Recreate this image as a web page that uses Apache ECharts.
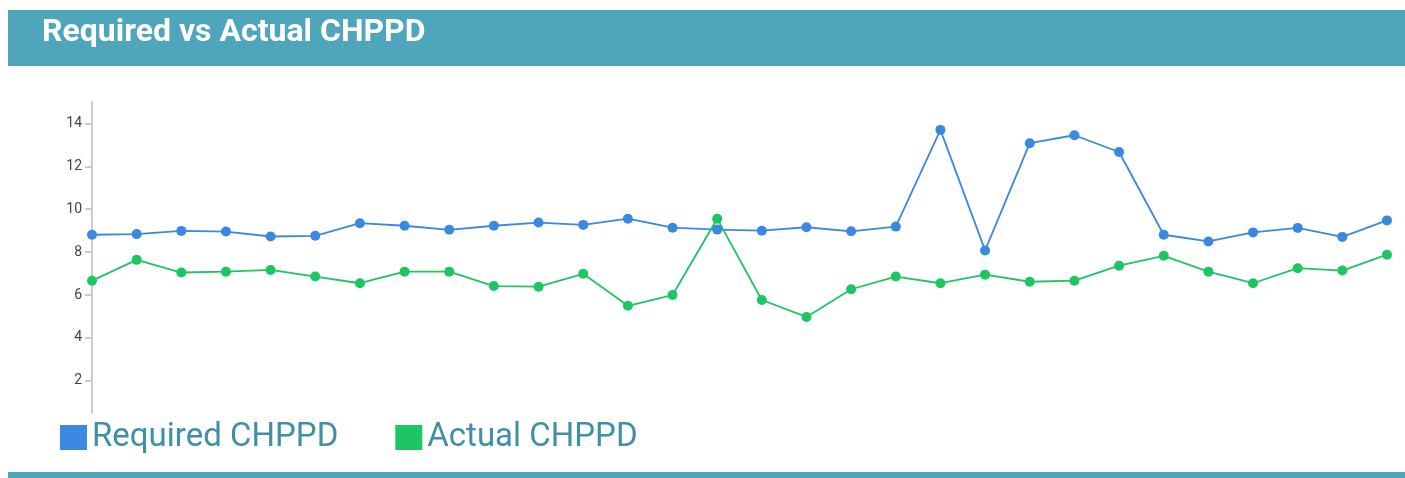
<!DOCTYPE html>
<html>
<head>
<meta charset="utf-8">
<script src="https://cdn.jsdelivr.net/npm/echarts@6/dist/echarts.min.js"></script>
<style>
html,body{margin:0;padding:0;background:#fff;}
#chart{width:1405px;height:478px;}
</style>
</head>
<body>
<div id="chart"></div>
<script>
const titleText = 'Required vs Actual CHPPD';
const categories = ['1','2','3','4','5','6','7','8','9','10','11','12','13','14','15','16','17','18','19','20','21','22','23','24','25','26','27','28','29','30'];
const requiredCHPPD = [8.81,8.84,8.99,8.96,8.73,8.76,9.35,9.23,9.04,9.23,9.38,9.27,9.56,9.14,9.05,9.0,9.16,8.97,9.19,13.7,8.08,13.08,13.45,12.67,8.81,8.5,8.92,9.13,8.71,9.48];
const actualCHPPD = [6.67,7.64,7.05,7.09,7.17,6.86,6.55,7.09,7.09,6.42,6.39,6.99,5.5,6.0,9.56,5.77,4.98,6.27,6.86,6.55,6.95,6.62,6.67,7.37,7.83,7.09,6.55,7.25,7.14,7.88];
const yTicks = [2,4,6,8,10,12,14];

const chart = echarts.init(document.getElementById('chart'));
chart.setOption({
  animation: false,
  backgroundColor: '#fff',
  graphic: [
    {type:'rect', left:8, top:10, shape:{width:1397, height:56}, style:{fill:'#4fa5bc'}, z:-1},
    {type:'rect', left:8, top:472, shape:{width:1397, height:6}, style:{fill:'#4fa5bc'}, z:-1}
  ],
  title: {
    text: titleText,
    left: 37, top: 12,
    textStyle: {color:'#fff', fontSize:32, fontWeight:'bold', fontFamily:'Roboto'}
  },
  legend: {
    left: 60, top: 421,
    padding: 0,
    icon: 'rect',
    itemWidth: 27, itemHeight: 25,
    itemGap: 57,
    textStyle: {color:'#3f8fa7', fontSize:33, fontFamily:'Roboto', padding:[0,0,0,0]},
    data: ['Required CHPPD','Actual CHPPD']
  },
  grid: {left:92, right:18, top:102, bottom:65, containLabel:false},
  xAxis: {
    type:'category', data: categories, boundaryGap:false,
    show:false
  },
  yAxis: {
    type:'value', min:0.5, max:15,
    splitLine:{show:false},
    axisLine:{show:true, lineStyle:{color:'#cccccc', width:2}},
    axisTick:{show:true, length:7, customValues: yTicks, lineStyle:{color:'#cccccc', width:2}},
    axisLabel:{customValues: yTicks, color:'#444', fontSize:14, fontFamily:'Roboto', margin:10}
  },
  series: [
    {name:'Required CHPPD', type:'line', data: requiredCHPPD, color:'#3a88e0',
     symbol:'circle', symbolSize:10, lineStyle:{width:1.8}},
    {name:'Actual CHPPD', type:'line', data: actualCHPPD, color:'#1dc663',
     symbol:'circle', symbolSize:10, lineStyle:{width:1.8}}
  ]
});
</script>
</body>
</html>
